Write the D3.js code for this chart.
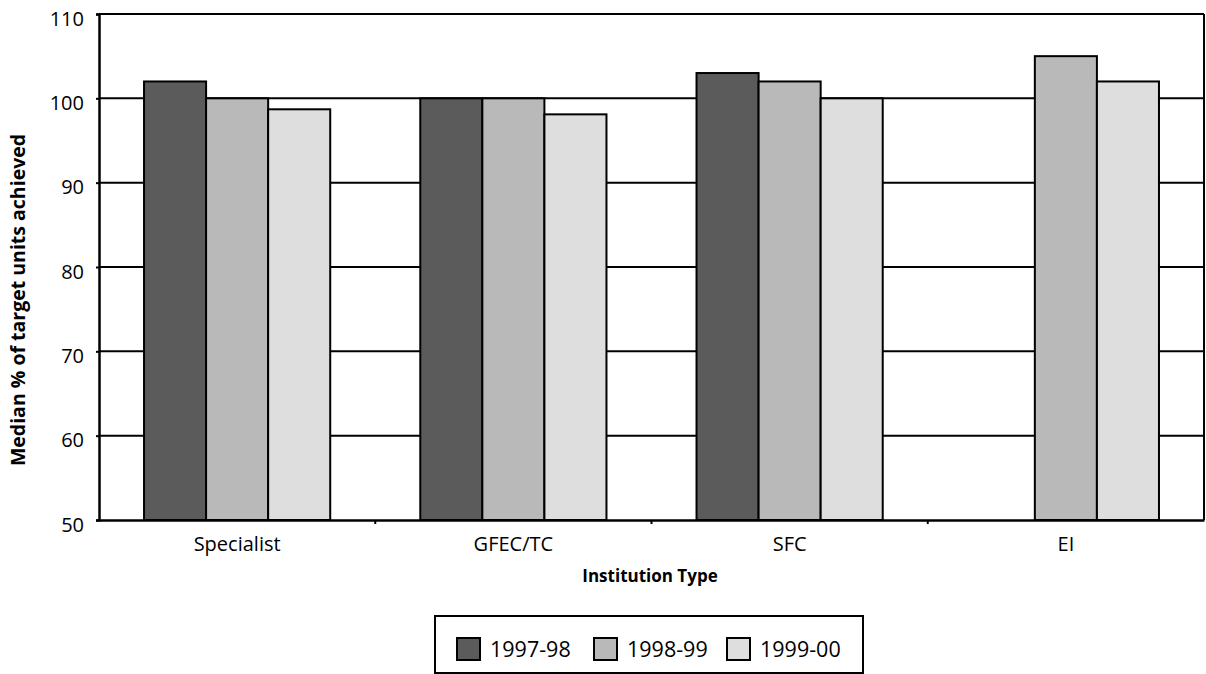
<!DOCTYPE html>
<html><head><meta charset="utf-8">
<script src="https://cdn.jsdelivr.net/npm/d3@7"></script>
<style>body{margin:0;background:#fff}svg{display:block;font-family:"Open Sans","DejaVu Sans",sans-serif}</style>
</head><body>
<script>
const categories = ["Specialist", "GFEC/TC", "SFC", "EI"];
const seriesNames = ["1997-98", "1998-99", "1999-00"];
const s1997 = [102, 100, 103, null];
const s1998 = [100, 100, 102, 105];
const s1999 = [98.7, 98.1, 100, 102];
const yTicks = [50, 60, 70, 80, 90, 100, 110];
const colors = ["#5b5b5b", "#b9b9b9", "#dedede"];
const seriesValues = [s1997, s1998, s1999];

const W = 1206, H = 674;
const m = {l: 99, r: 2, t: 14, b: 154};
const FONT = "Open Sans, DejaVu Sans, sans-serif";
const svg = d3.select("body").append("svg").attr("width", W).attr("height", H);

const x0 = d3.scaleBand().domain(categories).range([m.l, W - m.r]).paddingInner(0.326).paddingOuter(0.163);
const x1 = d3.scaleBand().domain(seriesNames).range([0, x0.bandwidth()]);
const y = d3.scaleLinear().domain([50, 110]).range([H - m.b, m.t]);

// gridlines
svg.append("g").selectAll("line").data(yTicks.filter(d => d > 50)).join("line")
  .attr("x1", m.l).attr("x2", W - m.r).attr("y1", d => y(d)).attr("y2", d => y(d))
  .attr("stroke", "#000").attr("stroke-width", 2);
// right border
svg.append("line").attr("x1", W - m.r).attr("x2", W - m.r).attr("y1", y(110)).attr("y2", y(50))
  .attr("stroke", "#000").attr("stroke-width", 2);

// bars
const data = [];
categories.forEach((c, i) => seriesNames.forEach((s, j) => {
  if (seriesValues[j][i] != null) data.push({c, s, v: seriesValues[j][i], j});
}));
svg.append("g").selectAll("rect").data(data).join("rect")
  .attr("x", d => x0(d.c) + x1(d.s))
  .attr("width", x1.bandwidth())
  .attr("y", d => y(d.v))
  .attr("height", d => y(50) - y(d.v))
  .attr("fill", d => colors[d.j]).attr("stroke", "#000").attr("stroke-width", 2);

// y axis
const ya = svg.append("g").attr("transform", `translate(${m.l},0)`)
  .call(d3.axisLeft(y).tickValues(yTicks).tickSize(3).tickPadding(12).tickFormat(d3.format("d")));
ya.select(".domain").attr("stroke", "#000").attr("stroke-width", 2.5);
ya.selectAll(".tick line").attr("stroke-width", 2);
ya.selectAll("text").attr("font-size", 20).attr("fill", "#000").attr("font-family", FONT).attr("dy", "0.55em");

// x axis
const xa = svg.append("g").attr("transform", `translate(0,${y(50)})`)
  .call(d3.axisBottom(x0).tickSize(0).tickPadding(0));
xa.select(".domain").attr("stroke", "#000").attr("stroke-width", 2.5);
xa.selectAll("text").attr("font-size", 20).attr("fill", "#000").attr("font-family", FONT)
  .attr("dy", null).attr("y", 31);
// category boundary ticks
const step = x0.step();
svg.append("g").selectAll("line").data(categories.slice(1)).join("line")
  .attr("x1", d => x0(d) - x0.paddingInner() * step / 2)
  .attr("x2", d => x0(d) - x0.paddingInner() * step / 2)
  .attr("y1", y(50)).attr("y2", y(50) + 4).attr("stroke", "#000").attr("stroke-width", 2);

// axis titles
svg.append("text").attr("x", 650).attr("y", 582).attr("text-anchor", "middle")
  .attr("font-size", 17).attr("font-weight", "bold").text("Institution Type");
svg.append("text").attr("transform", `translate(25,300) rotate(-90)`)
  .attr("text-anchor", "middle").attr("font-size", 19.5).attr("font-weight", "bold")
  .text("Median % of target units achieved");

// legend
const lg = svg.append("g");
lg.append("rect").attr("x", 435).attr("y", 616).attr("width", 428).attr("height", 57)
  .attr("fill", "#fff").attr("stroke", "#000").attr("stroke-width", 2);
const legX = [457, 594, 727];
seriesNames.forEach((s, j) => {
  lg.append("rect").attr("x", legX[j]).attr("y", 638).attr("width", 23).attr("height", 22)
    .attr("fill", colors[j]).attr("stroke", "#000").attr("stroke-width", 2);
  lg.append("text").attr("x", legX[j] + 33).attr("y", 657).attr("font-size", 21.5).text(s);
});
</script>
</body></html>
